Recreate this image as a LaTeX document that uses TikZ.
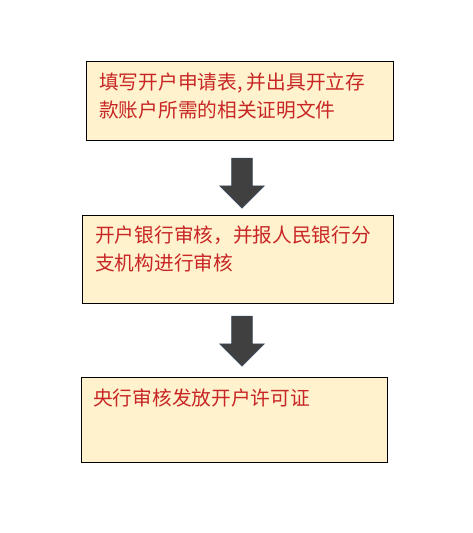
\documentclass[tikz,border=0pt]{standalone}
\usepackage{fontspec}
\setmainfont{Noto Sans CJK SC}
\usetikzlibrary{positioning,shapes.arrows}

\definecolor{boxfill}{RGB}{255,242,204}
\definecolor{textred}{RGB}{200,38,38}
\definecolor{arrowgray}{RGB}{64,64,64}
\definecolor{arrowedge}{RGB}{60,78,98}

\tikzset{
  stepbox/.style={draw=black, line width=0.9pt, fill=boxfill, inner sep=0pt, outer sep=0pt, anchor=north west},
  note/.style={inner sep=0pt, align=left, text=textred, font=\fontsize{19.7}{28}\selectfont},
  downarrow/.style={single arrow, rotate=-90, fill=arrowgray, draw=arrowedge, line width=0.6pt,
    minimum width=44pt, minimum height=50pt, inner sep=10pt,
    single arrow head extend=12pt, single arrow tip angle=90},
}

\begin{document}
\begin{tikzpicture}[x=1pt, y=-1pt]
                \useasboundingbox (0,0) rectangle (472,533);
                \node[stepbox, minimum width=307pt, minimum height=79pt] at (86,61) (B1) {};
                \node[stepbox, minimum width=311pt, minimum height=88pt] at (82,215) (B2) {};
                \node[stepbox, minimum width=306pt, minimum height=85pt] at (81,377) (B3) {};

                \node[note, below right = 12pt and 13pt of B1.north west] (T1) {填写开户申请表, 并出具开立存\\款账户所需的相关证明文件};
                \node[note, below right = 11pt and 13pt of B2.north west] (T2) {开户银行审核，并报人民银行分\\支机构进行审核};
                \node[note, below right = 12pt and 12pt of B3.north west] (T3) {央行审核发放开户许可证};

                \node[downarrow] at (242,178) (A1) {};
                \node[downarrow] at (242,336) (A2) {};
            \end{tikzpicture}
\end{document}
